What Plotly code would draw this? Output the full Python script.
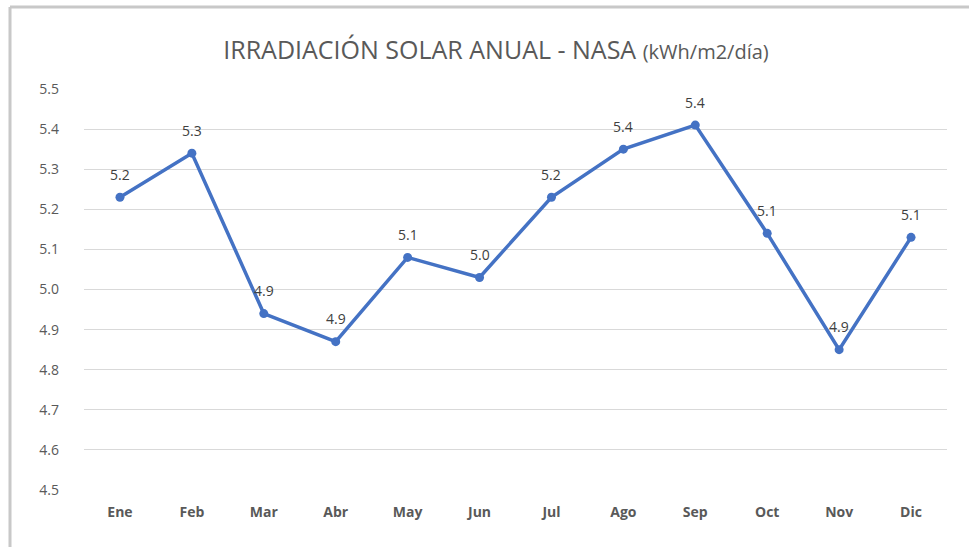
import plotly.graph_objects as go
from decimal import Decimal, ROUND_HALF_UP

meses = ["Ene", "Feb", "Mar", "Abr", "May", "Jun", "Jul", "Ago", "Sep", "Oct", "Nov", "Dic"]
irradiacion = [5.23, 5.34, 4.94, 4.87, 5.08, 5.03, 5.23, 5.35, 5.41, 5.14, 4.85, 5.13]
y_ticks = [4.5, 4.6, 4.7, 4.8, 4.9, 5.0, 5.1, 5.2, 5.3, 5.4, 5.5]


def fmt1(v):
    return str(Decimal(str(v)).quantize(Decimal("0.1"), rounding=ROUND_HALF_UP))


FONT = "Open Sans, sans-serif"
W, H = 969, 547
ML, MR, MT, MB = 84, 22, 89, 57
pw, ph = W - ML - MR, H - MT - MB

fig = go.Figure()
fig.add_trace(go.Scatter(
    x=meses, y=irradiacion, mode="lines+markers",
    line=dict(color="#4472C4", width=3.5),
    marker=dict(color="#4472C4", size=9),
    hoverinfo="x+y",
))

annotations = [
    dict(x=m, y=v, xref="x", yref="y", text=fmt1(v), showarrow=False,
         yshift=23, yanchor="middle", xanchor="center",
         font=dict(family=FONT, size=14, color="#404040"))
    for m, v in zip(meses, irradiacion)
]

fig.update_layout(
    width=W, height=H,
    margin=dict(l=ML, r=MR, t=MT, b=MB, autoexpand=False),
    paper_bgcolor="white", plot_bgcolor="white",
    showlegend=False,
    annotations=annotations,
    title=dict(
        text="IRRADIACIÓN SOLAR ANUAL - NASA <span style='font-size:20px'>(kWh/m2/día)</span>",
        x=496 / W, xanchor="center", y=1 - 50 / H, yanchor="middle",
        font=dict(family=FONT, size=25, color="#595959"),
    ),
    xaxis=dict(
        type="category", range=[-0.5, len(meses) - 0.5],
        showgrid=False, zeroline=False, showline=False,
        automargin=False,
        ticks="", tickfont=dict(family=FONT, size=14, color="#595959", weight="bold"),
        ticklabelstandoff=12,
    ),
    yaxis=dict(
        range=[4.5, 5.5], tickvals=y_ticks, ticktext=[f"{v:.1f}" for v in y_ticks],
        showgrid=True, gridcolor="#D9D9D9", gridwidth=1, zeroline=False, showline=False,
        automargin=False,
        ticks="", tickfont=dict(family=FONT, size=14, color="#595959"),
        ticklabelstandoff=24,
    ),
    shapes=[
        dict(type="line", xref="paper", yref="paper",
             x0=(10 - ML) / pw, x1=(W + 5 - ML) / pw,
             y0=(H - MB - 7) / ph, y1=(H - MB - 7) / ph,
             line=dict(color="#C8C8C8", width=3)),
        dict(type="line", xref="paper", yref="paper",
             x0=(10 - ML) / pw, x1=(10 - ML) / pw,
             y0=(H - MB - 7) / ph, y1=(H - MB - H - 5) / ph,
             line=dict(color="#C8C8C8", width=3)),
    ],
)

fig.write_html("out.html", config={"displayModeBar": False},
               post_script="document.body.style.margin='0';")
